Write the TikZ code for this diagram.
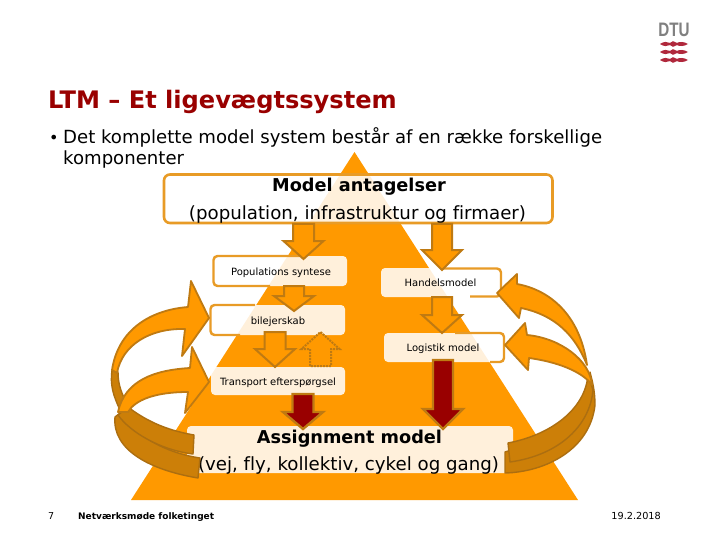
\documentclass[tikz,border=0pt]{standalone}
\usepackage{fontspec}
\setmainfont[Ligatures=CommonOff]{DejaVu Sans}
\newfontfamily\logofont{Liberation Sans}
\usetikzlibrary{calc}
\definecolor{pyr}{HTML}{FF9900}
\definecolor{edgeo}{HTML}{E89B26}
\definecolor{edged}{HTML}{BF7A12}
\definecolor{band}{HTML}{CC7F08}
\definecolor{dtured}{HTML}{990000}
\definecolor{logored}{HTML}{B0283C}
\tikzset{
  boxn/.style={draw=edgeo,line width=2.6pt,fill=white,fill opacity=0.86,rounded corners=6pt},
  softbox/.style={fill=white,fill opacity=0.86,rounded corners=4pt},
  softedge/.style={draw=edgeo,line width=2.4pt,rounded corners=4pt},
  lab/.style={inner sep=0pt,font=\fontsize{10}{12}\selectfont,anchor=base},
  biglab/.style={inner sep=0pt,font=\fontsize{18.2}{21}\selectfont,anchor=base},
  bigbold/.style={inner sep=0pt,font=\fontsize{17.7}{21}\selectfont\bfseries,anchor=base},
  blockor/.style={draw=edged,line width=2pt,fill=pyr,line join=miter},
  blockred/.style={draw=edged,line width=2.4pt,fill=dtured,line join=miter},
  blockdot/.style={draw=edged,line width=2pt,densely dotted,fill=pyr},
  curveor/.style={draw=edged,line width=1.8pt,fill=pyr,line join=round},
  curveband/.style={draw=edged!90!black,line width=1.4pt,fill=band,line join=round},
}
\newcommand\blockar[6]{\draw[#1] ($(#2)+(-#5,0)$) -- ($(#3)+(-#5,-#4)$) -- ($(#3)+(-#6,-#4)$) -- (#3) -- ($(#3)+(#6,-#4)$) -- ($(#3)+(#5,-#4)$) -- ($(#2)+(#5,0)$) -- cycle;}
\newcommand\logobar[1]{\fill[logored] (660,#1) .. controls (664,#1-2.6) and (667,#1-2.6) .. (670,#1-1.1) -- (673,#1-2.8) -- (677,#1-1.1) .. controls (680,#1-2.6) and (684,#1-2.4) .. (688,#1) .. controls (684,#1+2.4) and (680,#1+2.6) .. (677,#1+1.1) -- (673,#1+2.8) -- (670,#1+1.1) .. controls (667,#1+2.6) and (664,#1+2.6) .. (660,#1) -- cycle;}
\begin{document}
\begin{tikzpicture}[x=1pt,y=-1pt]
\useasboundingbox (0,0) rectangle (720,540);
\fill[white] (0,0) rectangle (720,540);
% logo
\node[inner sep=0pt,text=black!50] (logotxt) at (674,30) {\logofont\fontsize{19.5}{19.5}\selectfont\bfseries\scalebox{0.78}[1]{DTU}};
\logobar{44}\logobar{52}\logobar{60}
% title and text
\node[inner sep=0pt,anchor=base west,text=dtured,font=\fontsize{24.1}{28}\selectfont\bfseries] (title) at (48,109) {LTM – Et ligevægtssystem};
\node[inner sep=0pt,anchor=base west,font=\fontsize{16}{18}\selectfont] (bul) at (49,144) {•};
\node[inner sep=0pt,anchor=base west,font=\fontsize{18.1}{21}\selectfont] (l1) at (63,144) {Det komplette model system består af en række forskellige};
\node[inner sep=0pt,anchor=base west,font=\fontsize{18.1}{21}\selectfont] (l2) at (63,165) {komponenter};
% pyramid
\fill[pyr] (354.5,152) -- (578,500) -- (131,500) -- cycle;
% boxes
\draw[boxn] (164,174.5) rectangle (552.5,223);
\fill[softbox] (214,256) rectangle (347,286);
\draw[softedge] (300,256) -- (213.5,256) -- (213.5,286) -- (270,286);
\fill[softbox] (211,305) rectangle (345,335);
\draw[softedge] (255,305) -- (210.5,305) -- (210.5,335) -- (240,335);
\fill[softbox] (381,268) rectangle (501,297);
\draw[softedge] (440,268.5) -- (501,268.5) -- (501,296.5) -- (470,296.5);
\fill[softbox] (384,333) rectangle (504,362);
\draw[softedge] (455,333) -- (504,333) -- (504,362) -- (490,362);
\fill[softbox] (211,367) rectangle (345,395);
\fill[softbox] (187,426) rectangle (513,473);
% labels
\node[bigbold] (m1) at (359,192) {Model antagelser};
\node[biglab] (m2) at (357.5,219) {(population, infrastruktur og firmaer)};
\node[lab] (pop) at (281,275) {Populations syntese};
\node[lab] (han) at (440.5,286) {Handelsmodel};
\node[lab] (bil) at (278,324) {bilejerskab};
\node[lab] (log) at (443,351) {Logistik model};
\node[lab] (tra) at (278,385) {Transport efterspørgsel};
\node[bigbold] (as1) at (349.5,443) {Assignment model};
\node[biglab] (as2) at (348.5,470) {(vej, fly, kollektiv, cykel og gang)};
% block arrows
\coordinate (a1s) at (303.5,224); \coordinate (a1t) at (303.5,259);
\coordinate (a2s) at (294,286);   \coordinate (a2t) at (294,311);
\coordinate (a3s) at (275,332);   \coordinate (a3t) at (275,367);
\coordinate (a4s) at (320.5,366); \coordinate (a4t) at (320.5,332);
\coordinate (a5s) at (303,394);   \coordinate (a5t) at (303,429);
\coordinate (a6s) at (442,224);   \coordinate (a6t) at (442,270);
\coordinate (a7s) at (442,297);   \coordinate (a7t) at (442,333);
\coordinate (a8s) at (443,360);   \coordinate (a8t) at (443,429);
\blockar{blockor}{a1s}{a1t}{18}{10.5}{20}
\blockar{blockor}{a2s}{a2t}{15}{10}{20}
\blockar{blockor}{a3s}{a3t}{18}{10.5}{20}
\blockar{blockdot}{a4s}{a4t}{1*-17}{10.5}{19}
\blockar{blockred}{a5s}{a5t}{17}{10.5}{20}
\blockar{blockor}{a6s}{a6t}{20}{10}{20}
\blockar{blockor}{a7s}{a7t}{18}{10}{20}
\blockar{blockred}{a8s}{a8t}{20}{10}{20}
% right loop
\path[curveband] (505,452) -- (505,473) .. controls (545,472) and (590,450) .. (595,405) .. controls (595,390) and (592,380) .. (590,372) .. controls (590,395) and (575,430) .. (505,452) -- cycle;
\path[curveband] (508,443) -- (510,462) .. controls (560,455) and (590,425) .. (593,390) -- (588,375) .. controls (585,410) and (550,435) .. (508,443) -- cycle;
\path[curveor] (497,293) -- (517,274) -- (517,284) .. controls (550,290) and (580,315) .. (587,365) .. controls (575,335) and (555,315) .. (521,308) -- (519,318) -- cycle;
\path[curveor] (505,345) -- (525,323) -- (527,335) .. controls (560,338) and (590,360) .. (592,385) .. controls (585,375) and (565,363) .. (529,358) -- (528,370) -- cycle;
% left loop
\path[curveband] (112,370) .. controls (110,385) and (113,395) .. (120,410) -- (128,405) .. controls (122,395) and (118,385) .. (118,372) -- cycle;
\path[curveor] (209,318) -- (191,281) -- (188,307) .. controls (150,310) and (118,330) .. (112,370) -- (117,373) .. controls (122,345) and (150,328) .. (185,329) -- (182,356) -- cycle;
\path[curveband] (128,407) -- (115,417) .. controls (112,450) and (150,470) .. (198,478) -- (200,458) .. controls (160,452) and (125,430) .. (128,407) -- cycle;
\path[curveband] (128,407) .. controls (145,420) and (165,430) .. (194,435) -- (193,454) .. controls (160,450) and (130,432) .. (118,415) -- cycle;
\path[curveor] (209,382) -- (192,347) -- (190,368) .. controls (155,370) and (125,380) .. (118,412) -- (128,412) .. controls (135,400) and (155,392) .. (188,392) -- (185,413) -- cycle;
% footer
\node[inner sep=0pt,anchor=base west,font=\fontsize{9.5}{11}\selectfont] (pg) at (48,519) {7};
\node[inner sep=0pt,anchor=base west,font=\fontsize{9}{11}\selectfont\bfseries] (ft) at (78,519) {Netværksmøde folketinget};
\node[inner sep=0pt,anchor=base east,font=\fontsize{9.7}{11}\selectfont] (dt) at (661,519) {19.2.2018};
\end{tikzpicture}
\end{document}
